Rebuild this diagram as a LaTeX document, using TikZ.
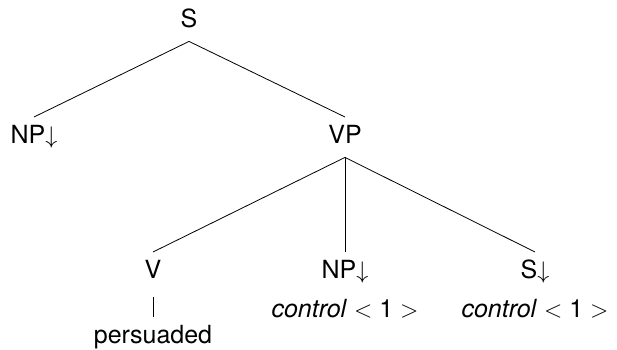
\documentclass[tikz,border=0pt]{standalone}
\usepackage{fontspec}
\setmainfont{TeX Gyre Heros}
\begin{document}
\begin{tikzpicture}[x=0.5pt,y=-0.5pt,font=\fontsize{12.5}{15}\selectfont,
  cat/.style={anchor=base,inner xsep=0pt,inner ysep=4pt,text height=8.8pt,text depth=3pt},
  feat/.style={anchor=base,inner sep=0pt}]
\useasboundingbox(0,0)rectangle(617,349);
\node[cat](s)at(189,27){S};
\node[cat](np)at(34,143){NP$\downarrow$};
\node[cat](vp)at(345,143){VP};
\node[cat](v)at(153,278){V};
\node[cat](npo)at(345,278){NP$\downarrow$};
\node[cat](sc)at(535,278){S$\downarrow$};
\node[feat](npof)at(345,317){\textit{control} $<$ 1 $>$};
\node[feat](scf)at(535,317){\textit{control} $<$ 1 $>$};
\node[cat](w)at(153,343){persuaded};
\draw(s.south)--(np.north);
\draw(s.south)--(vp.north);
\draw(vp.south)--(v.north);
\draw(vp.south)--(npo.north);
\draw(vp.south)--(sc.north);
\draw([yshift=-2.5pt]v.south)--(w.north);
\end{tikzpicture}
\end{document}
